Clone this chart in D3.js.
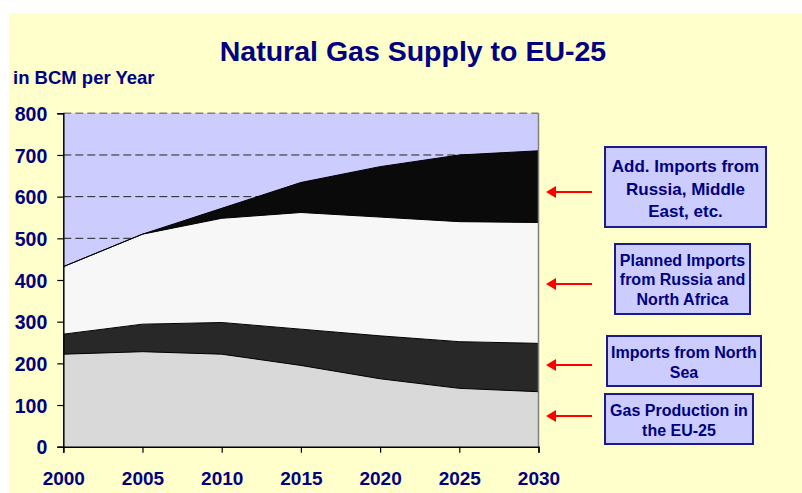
<!DOCTYPE html>
<html><head><meta charset="utf-8">
<script src="https://cdn.jsdelivr.net/npm/d3@7"></script>
<style>
html,body{margin:0;padding:0;background:#fff;}
svg{display:block;font-family:Arial,"Liberation Sans",sans-serif;}
</style></head>
<body>
<svg id="c" width="802" height="493"></svg>
<script>
const years = [2000, 2005, 2010, 2015, 2020, 2025, 2030];
const production = [222, 228, 222, 195, 163, 140, 132];
const northSea = [48, 66, 76, 87, 103, 112, 116];
const planned = [162, 216, 250, 280, 285, 288, 290];
const additional = [0, 0, 24, 72, 121, 160, 172];
const seriesNames = ["Gas Production in the EU-25", "Imports from North Sea", "Planned Imports from Russia and North Africa", "Add. Imports from Russia, Middle East, etc."];
const seriesColors = ["#d9d9d9", "#282828", "#f7f7f7", "#0a0a0a"];
const yTicks = [0, 100, 200, 300, 400, 500, 600, 700, 800];
const gridValues = [500, 600, 700];
const boxLines = [
  ["Add. Imports from", "Russia, Middle", "East, etc."],
  ["Planned Imports", "from Russia and", "North Africa"],
  ["Imports from North", "Sea"],
  ["Gas Production in", "the EU-25"]
];
const titleText = "Natural Gas Supply to EU-25";
const unitText = "in BCM per Year";

const navy = "#000080";
const svg = d3.select("#c");
svg.append("rect").attr("x", 9).attr("y", 13).attr("width", 793).attr("height", 480).attr("fill", "#ffffcc");

const pL = 63.3, pR = 538.5, pT = 113.3, pB = 446.7;
const x = d3.scaleLinear().domain([2000, 2030]).range([pL, pR]);
const y = d3.scaleLinear().domain([0, 800]).range([pB, pT]);

svg.append("rect").attr("x", pL).attr("y", pT).attr("width", pR - pL).attr("height", pB - pT).attr("fill", "#ccccff");

svg.append("g").selectAll("line").data(gridValues).join("line")
  .attr("x1", pL).attr("x2", pR).attr("y1", d => y(d)).attr("y2", d => y(d))
  .attr("stroke", "#222").attr("stroke-width", 1).attr("stroke-dasharray", "8,4");

const table = years.map((yr, i) => ({year: yr, s0: production[i], s1: northSea[i], s2: planned[i], s3: additional[i]}));
const stack = d3.stack().keys(["s0", "s1", "s2", "s3"])(table);
const area = d3.area().x(d => x(d.data.year)).y0(d => y(d[0])).y1(d => y(d[1]));
const topLine = d3.line().x(d => x(d.data.year)).y(d => y(d[1]));

const g = svg.append("g");
g.selectAll("path.a").data(stack).join("path").attr("class", "a")
  .attr("d", area).attr("fill", (d, i) => seriesColors[i]).attr("stroke", "none");
g.selectAll("path.l").data(stack).join("path").attr("class", "l")
  .attr("d", topLine).attr("fill", "none").attr("stroke", "#000").attr("stroke-width", 1);

svg.append("line").attr("x1", pL).attr("x2", pR).attr("y1", pT).attr("y2", pT)
  .attr("stroke", "#808080").attr("stroke-width", 1.5).attr("stroke-dasharray", "8,4");
svg.append("line").attr("x1", pR).attr("x2", pR).attr("y1", pT).attr("y2", pB)
  .attr("stroke", "#808080").attr("stroke-width", 1.5);

const yAxis = svg.append("g").attr("transform", `translate(${pL},0)`)
  .call(d3.axisLeft(y).tickValues(yTicks).tickSize(6).tickPadding(10).tickFormat(d3.format("d")));
const xAxis = svg.append("g").attr("transform", `translate(0,${pB})`)
  .call(d3.axisBottom(x).tickValues(years).tickSize(6).tickPadding(19).tickFormat(d3.format("d")));
[yAxis, xAxis].forEach(a => {
  a.select(".domain").attr("stroke", "#000").attr("stroke-width", 1.5);
  a.selectAll(".tick line").attr("stroke", "#000").attr("stroke-width", 1.2);
  a.selectAll("text").attr("fill", navy).attr("font-size", 19).attr("font-weight", "bold")
    .attr("font-family", "Arial, 'Liberation Sans', sans-serif");
});
yAxis.selectAll(".tick text").attr("dy", "0.36em").attr("font-size", 19.5);

svg.append("text").attr("x", 413).attr("y", 61).attr("text-anchor", "middle")
  .attr("fill", navy).attr("font-size", 28.5).attr("font-weight", "bold").text(titleText);
svg.append("text").attr("x", 13).attr("y", 84)
  .attr("fill", navy).attr("font-size", 18.5).attr("font-weight", "bold").text(unitText);

const boxes = [
  {x0: 605, y0: 147, w: 161, h: 80, arrowY: 192, fs: 17, lh: 22.5, base: 172},
  {x0: 615, y0: 244, w: 135, h: 70, arrowY: 284, fs: 16, lh: 19.7, base: 265.5},
  {x0: 607, y0: 336, w: 154, h: 50, arrowY: 365, fs: 16, lh: 19.5, base: 358},
  {x0: 605, y0: 394, w: 148, h: 50, arrowY: 416, fs: 16, lh: 19.7, base: 416}
];
boxes.forEach((b, i) => {
  const bg = svg.append("g");
  bg.append("rect").attr("x", b.x0).attr("y", b.y0).attr("width", b.w).attr("height", b.h)
    .attr("fill", "#ccccff").attr("stroke", "#1a1a8c").attr("stroke-width", 2);
  bg.selectAll("text").data(boxLines[i]).join("text")
    .attr("x", b.x0 + b.w / 2).attr("y", (d, j) => b.base + j * b.lh)
    .attr("text-anchor", "middle").attr("fill", navy).attr("font-size", b.fs).attr("font-weight", "bold")
    .text(d => d);
  bg.append("line").attr("x1", 552).attr("x2", 592).attr("y1", b.arrowY).attr("y2", b.arrowY)
    .attr("stroke", "#ff0000").attr("stroke-width", 2);
  bg.append("path").attr("d", `M546,${b.arrowY} L556,${b.arrowY - 6} L556,${b.arrowY + 6} Z`).attr("fill", "#ff0000");
});
</script>
</body></html>
